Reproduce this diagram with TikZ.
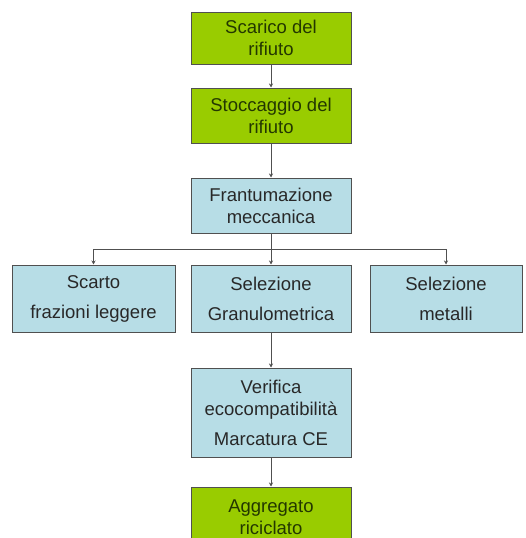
\documentclass[tikz,border=0pt]{standalone}
\usepackage{fontspec}
\setmainfont{Liberation Sans}
\usetikzlibrary{arrows.meta}
\definecolor{verde}{RGB}{153,204,0}
\definecolor{azzurro}{RGB}{183,221,230}
\definecolor{bordo}{RGB}{80,80,80}
\definecolor{testo}{RGB}{40,40,40}
\definecolor{testoverde}{RGB}{35,55,0}

\begin{document}
\begin{tikzpicture}[
    x=1pt, y=-1pt,
    >={Stealth[length=4pt,width=4pt]},
    fase/.style={draw=bordo, line width=1pt, inner sep=0pt, align=center,
        text=testo, font=\fontsize{18.5}{22}\selectfont},
    verdebox/.style={fase, fill=verde, text=testoverde, minimum width=160pt},
    azzurrobox/.style={fase, fill=azzurro},
    freccia/.style={->, draw=bordo, line width=0.8pt}
]
\useasboundingbox (0,0) rectangle (525,538);

% Fasi
\node[verdebox, minimum height=52pt] (scarico) at (271,38) {Scarico del\\rifiuto};
\node[verdebox, minimum height=55pt] (stoccaggio) at (271,115.5) {Stoccaggio del\\rifiuto};
\node[azzurrobox, minimum width=160pt, minimum height=55pt] (frant) at (271,205.5) {Frantumazione\\meccanica};

% Selezioni
\node[azzurrobox, minimum width=163pt, minimum height=67pt] (scarto) at (93.5,298.5) {Scarto\\[8pt]frazioni leggere};
\node[azzurrobox, minimum width=160pt, minimum height=67pt] (granulo) at (271,298.5) {Selezione\\[8pt]Granulometrica};
\node[azzurrobox, minimum width=152pt, minimum height=67pt] (metalli) at (446,298.5) {Selezione\\[8pt]metalli};

\node[azzurrobox, minimum width=160pt, minimum height=89pt] (verifica) at (271,412.5) {Verifica\\ecocompatibilità\\[8pt]Marcatura CE};
\node[verdebox, minimum height=60pt] (aggregato) at (271,517) {Aggregato\\riciclato};

% Collegamenti
\coordinate (bus) at (271,249);
\draw[freccia] (scarico) -- (stoccaggio);
\draw[freccia] (stoccaggio) -- (frant);
\draw[draw=bordo, line width=0.8pt] (frant) -- (bus);
\draw[freccia] (bus) -| (scarto);
\draw[freccia] (bus) -- (granulo);
\draw[freccia] (bus) -| (metalli);
\draw[freccia] (granulo) -- (verifica);
\draw[freccia] (verifica) -- (aggregato);

\end{tikzpicture}
\end{document}
